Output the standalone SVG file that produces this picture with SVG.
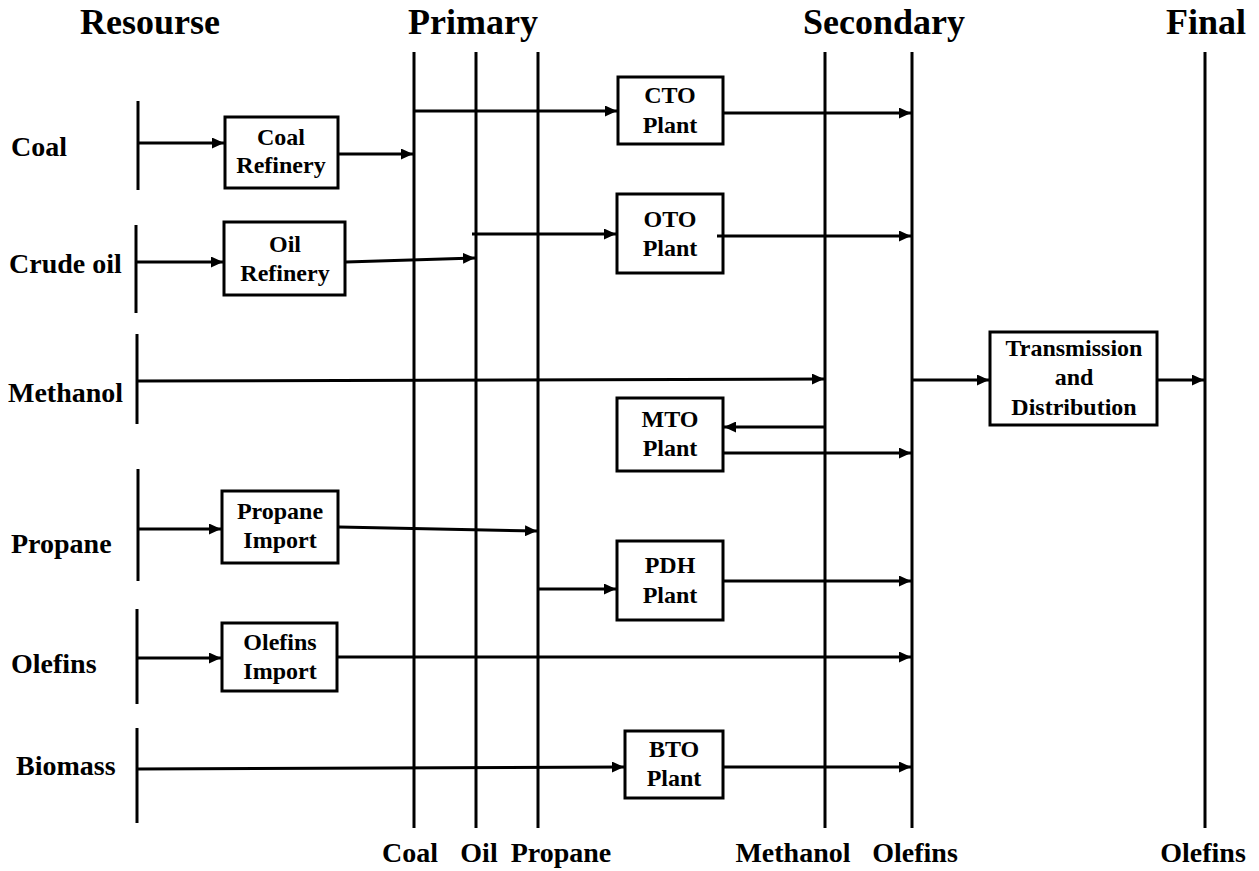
<svg xmlns="http://www.w3.org/2000/svg" width="1259" height="871" viewBox="0 0 1259 871">
<style>
.t{font-family:"Liberation Serif","Times New Roman",serif;font-weight:bold;fill:#000;text-anchor:middle}
.h{font-size:36px}
.l{font-size:28px;text-anchor:start}
.b{font-size:28px}
.n{font-size:24px}
.box{fill:#fff;stroke:#000;stroke-width:3}
.bar{stroke:#000;stroke-width:3;fill:none}
.c{stroke:#000;stroke-width:3;fill:none;marker-end:url(#ah)}
.p{stroke:#000;stroke-width:3;fill:none}
</style>
<defs>
<marker id="ah" markerUnits="userSpaceOnUse" markerWidth="12" markerHeight="11" refX="12" refY="5.5" orient="auto">
<path d="M0,0 L12,5.5 L0,11 z" fill="#000"/>
</marker>
</defs>
<rect width="1259" height="871" fill="#fff"/>
<g id="headers">
<text class="t h" x="150" y="34">Resourse</text>
<text class="t h" x="473" y="34">Primary</text>
<text class="t h" x="884" y="34">Secondary</text>
<text class="t h" x="1206" y="34">Final</text>
</g>
<g id="buses">
<line class="bar" x1="414" y1="52" x2="414" y2="828"/>
<line class="bar" x1="476" y1="52" x2="476" y2="828"/>
<line class="bar" x1="538" y1="52" x2="538" y2="828"/>
<line class="bar" x1="825" y1="52" x2="825" y2="828"/>
<line class="bar" x1="912" y1="52" x2="912" y2="828"/>
<line class="bar" x1="1205" y1="52" x2="1205" y2="828"/>
<text class="t b" x="410" y="862">Coal</text>
<text class="t b" x="479" y="862">Oil</text>
<text class="t b" x="561" y="862">Propane</text>
<text class="t b" x="793" y="862">Methanol</text>
<text class="t b" x="915" y="862">Olefins</text>
<text class="t b" x="1203" y="862">Olefins</text>
</g>
<g id="resources">
<line class="bar" x1="138" y1="101" x2="138" y2="190"/>
<text class="t l" x="11" y="156">Coal</text>
<line class="bar" x1="136" y1="225" x2="136" y2="313"/>
<text class="t l" x="9" y="273">Crude oil</text>
<line class="bar" x1="137" y1="334" x2="137" y2="424"/>
<text class="t l" x="8" y="402">Methanol</text>
<line class="bar" x1="138" y1="469" x2="138" y2="581"/>
<text class="t l" x="11" y="553">Propane</text>
<line class="bar" x1="137" y1="609" x2="137" y2="704"/>
<text class="t l" x="11" y="673">Olefins</text>
<line class="bar" x1="137" y1="728" x2="137" y2="823"/>
<text class="t l" x="16" y="775">Biomass</text>
</g>
<g id="coal-refinery">
<rect class="box" x="225" y="117" width="113" height="71"/>
<text class="t n" x="281" y="145">Coal</text>
<text class="t n" x="281" y="173">Refinery</text>
</g>
<g id="oil-refinery">
<rect class="box" x="224" y="222" width="121" height="73"/>
<text class="t n" x="285" y="252">Oil</text>
<text class="t n" x="285" y="281">Refinery</text>
</g>
<g id="propane-import">
<rect class="box" x="222" y="491" width="116" height="72"/>
<text class="t n" x="280" y="519">Propane</text>
<text class="t n" x="280" y="548">Import</text>
</g>
<g id="olefins-import">
<rect class="box" x="222" y="623" width="115" height="68"/>
<text class="t n" x="280" y="650">Olefins</text>
<text class="t n" x="280" y="679">Import</text>
</g>
<g id="cto-plant">
<rect class="box" x="618" y="77" width="105" height="67"/>
<text class="t n" x="670" y="103">CTO</text>
<text class="t n" x="670" y="133">Plant</text>
</g>
<g id="oto-plant">
<rect class="box" x="617" y="194" width="106" height="79"/>
<text class="t n" x="670" y="227">OTO</text>
<text class="t n" x="670" y="256">Plant</text>
</g>
<g id="mto-plant">
<rect class="box" x="617" y="398" width="106" height="73"/>
<text class="t n" x="670" y="427">MTO</text>
<text class="t n" x="670" y="456">Plant</text>
</g>
<g id="pdh-plant">
<rect class="box" x="617" y="541" width="106" height="79"/>
<text class="t n" x="670" y="573">PDH</text>
<text class="t n" x="670" y="603">Plant</text>
</g>
<g id="bto-plant">
<rect class="box" x="625" y="731" width="98" height="67"/>
<text class="t n" x="674" y="757">BTO</text>
<text class="t n" x="674" y="786">Plant</text>
</g>
<g id="transmission">
<rect class="box" x="990" y="332" width="167" height="93"/>
<text class="t n" x="1074" y="356">Transmission</text>
<text class="t n" x="1074" y="385">and</text>
<text class="t n" x="1074" y="415">Distribution</text>
</g>
<g id="connectors">
<line class="c" x1="138" y1="143" x2="224" y2="143"/>
<line class="c" x1="339" y1="154" x2="413" y2="154"/>
<line class="c" x1="136" y1="262" x2="223" y2="262"/>
<line class="c" x1="346" y1="262" x2="475" y2="258"/>
<line class="c" x1="414" y1="111" x2="617" y2="111"/>
<line class="c" x1="724" y1="113" x2="911" y2="113"/>
<line class="c" x1="472" y1="234" x2="616" y2="234"/>
<line class="c" x1="717" y1="236" x2="911" y2="236"/>
<line class="c" x1="137" y1="381" x2="824" y2="379"/>
<line class="c" x1="825" y1="427" x2="724" y2="427"/>
<line class="c" x1="724" y1="453" x2="911" y2="453"/>
<line class="c" x1="912" y1="380" x2="989" y2="380"/>
<line class="c" x1="1158" y1="380" x2="1204" y2="380"/>
<line class="c" x1="138" y1="529" x2="221" y2="529"/>
<line class="c" x1="339" y1="527" x2="537" y2="531"/>
<line class="c" x1="538" y1="589" x2="616" y2="589"/>
<line class="c" x1="724" y1="581" x2="911" y2="581"/>
<line class="c" x1="137" y1="658" x2="221" y2="658"/>
<line class="c" x1="338" y1="657" x2="911" y2="657"/>
<line class="c" x1="137" y1="769" x2="624" y2="767"/>
<line class="c" x1="724" y1="767" x2="911" y2="767"/>
</g>
</svg>
